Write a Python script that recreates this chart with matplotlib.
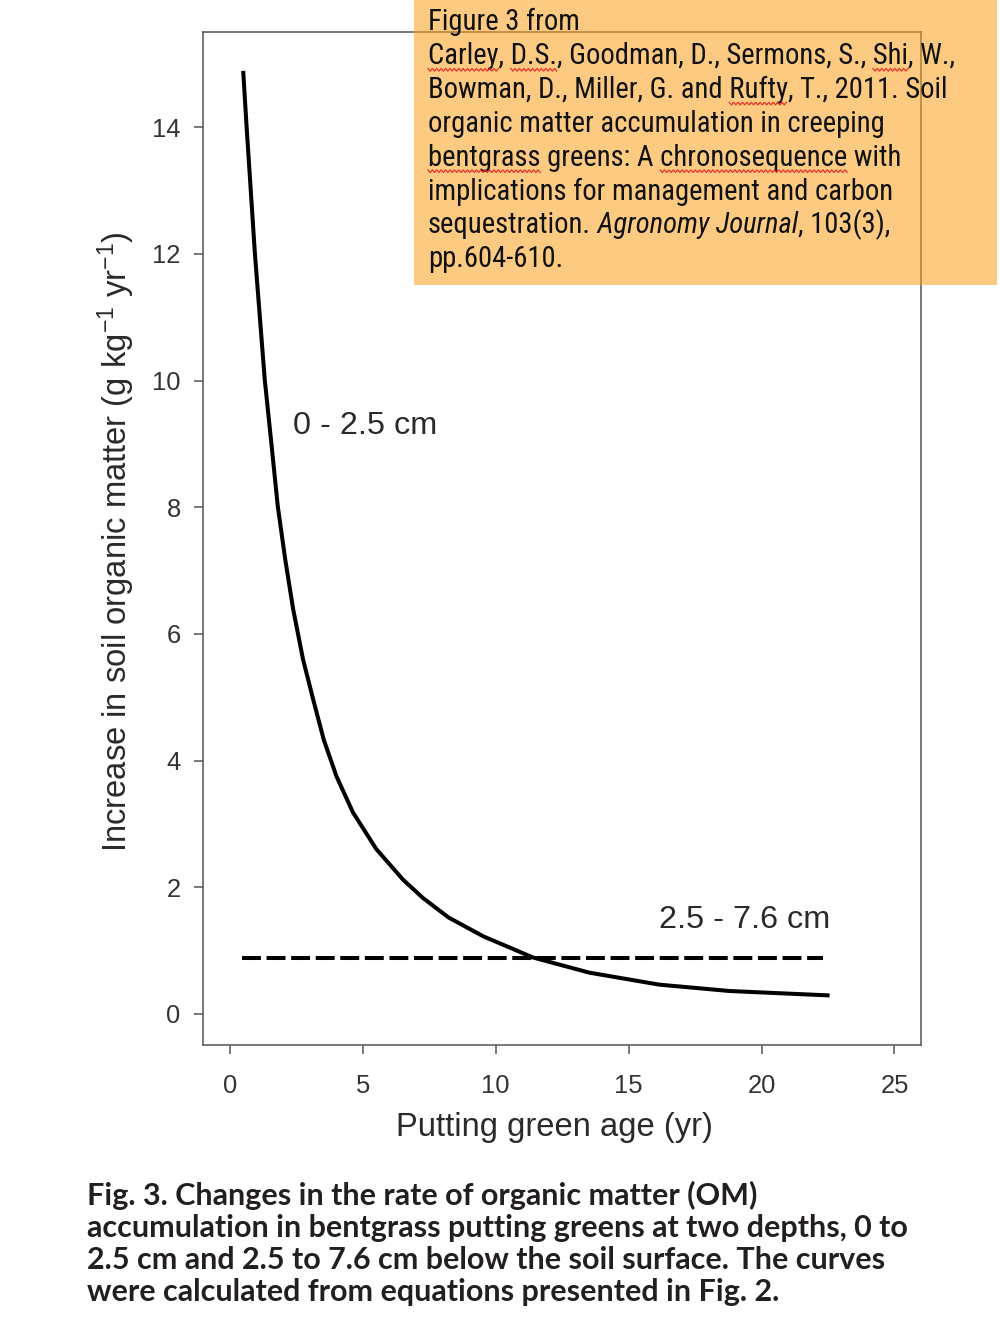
import numpy as np
import matplotlib
matplotlib.use("Agg")
import matplotlib.pyplot as plt
from matplotlib.patches import Rectangle
from matplotlib.lines import Line2D

# ---------------- datos ----------------
# capa 0 - 2.5 cm (curva continua)
edad_sup = [0.50, 0.63, 0.94, 1.31, 1.57, 1.80, 2.08, 2.38, 2.75, 3.13, 3.53,
            4.01, 4.63, 5.51, 6.51, 7.26, 8.23, 9.55, 11.40, 13.52, 16.16,
            18.80, 22.56]
om_sup = [14.89, 14.00, 12.01, 10.02, 8.97, 8.02, 7.18, 6.39, 5.60, 4.97, 4.33,
          3.75, 3.18, 2.60, 2.12, 1.83, 1.52, 1.22, 0.89, 0.65, 0.46,
          0.36, 0.29]
# capa 2.5 - 7.6 cm (linea discontinua, constante)
edad_inf = [0.45, 22.3]
om_inf = [0.875, 0.875]

xticks = [0, 5, 10, 15, 20, 25]
yticks = [0, 2, 4, 6, 8, 10, 12, 14]

etiqueta_sup = "0 - 2.5 cm"
etiqueta_inf = "2.5 - 7.6 cm"

cita = ["Figure 3 from",
        "Carley, D.S., Goodman, D., Sermons, S., Shi, W.,",
        "Bowman, D., Miller, G. and Rufty, T., 2011. Soil",
        "organic matter accumulation in creeping",
        "bentgrass greens: A chronosequence with",
        "implications for management and carbon"]
cita_rev = ("sequestration.", " Agronomy Journal", ", 103(3),")
cita_fin = "pp.604-610."
# palabras subrayadas por el corrector ortografico (linea, palabra)
subrayadas = [(1, "Carley"), (1, "D.S."), (1, "Shi"), (2, "Rufty"),
              (4, "bentgrass"), (4, "chronosequence")]

leyenda = ["Fig. 3. Changes in the rate of organic matter (OM)",
           "accumulation in bentgrass putting greens at two depths, 0 to",
           "2.5 cm and 2.5 to 7.6 cm below the soil surface. The curves",
           "were calculated from equations presented in Fig. 2."]

# ---------------- figura ----------------
plt.rcParams['mathtext.fontset'] = 'custom'
plt.rcParams['mathtext.rm'] = 'Liberation Sans'
plt.rcParams['mathtext.default'] = 'regular'

W, H = 1001, 1333
fig = plt.figure(figsize=(W / 100, H / 100), dpi=100)
fig.patch.set_facecolor('white')

ax = fig.add_axes([0.2031, 0.2157, 0.7170, 0.7601])
ax.plot(edad_sup, om_sup, color='black', lw=2.9, solid_joinstyle='round',
        solid_capstyle='butt')
ax.plot(edad_inf, om_inf, color='black', lw=2.9, dashes=(4.7, 1.4),
        dash_capstyle='butt')

ax.set_xlim(-1, 26)
ax.set_ylim(-0.5, 15.5)
ax.set_xticks(xticks)
ax.set_yticks(yticks)

gris = '#555555'
for s in ax.spines.values():
    s.set_color(gris)
    s.set_linewidth(1.1)
ax.tick_params(axis='both', color=gris, width=1.1, length=6.8,
               labelcolor='#333333', labelsize=18.4)
ax.tick_params(axis='x', pad=14)
ax.tick_params(axis='y', pad=9.5)
for lab in ax.get_xticklabels() + ax.get_yticklabels():
    lab.set_family('Liberation Sans')

ax.text(2.37, 9.16, etiqueta_sup, fontsize=23.3, family='Liberation Sans',
        color='#2a2a2a', va='baseline')
ax.text(22.58, 1.36, etiqueta_inf, fontsize=23.3, family='Liberation Sans',
        color='#2a2a2a', va='baseline', ha='right')

fig.text(554.5 / W, 1 - 1136 / H, "Putting green age (yr)", fontsize=23.6,
         family='Liberation Sans', color='#2a2a2a', ha='center', va='baseline')
fig.text(127 / W, 1 - 541.5 / H,
         "Increase in soil organic matter (g kg$^{-1}$ yr$^{-1}$)",
         fontsize=23.6, family='Liberation Sans', color='#2a2a2a',
         rotation=90, rotation_mode='anchor', ha='center', va='baseline')

# recuadro naranja semitransparente con la cita
fig.add_artist(Rectangle((414 / W, 1 - 285 / H), (997 - 414) / W, 285 / H,
                         transform=fig.transFigure, facecolor='#FB9F18',
                         alpha=0.55, edgecolor='none', zorder=5))

fuente = ['Roboto Condensed', 'Roboto']
tam = 20.6
x0 = 428 / W
base = [30.5 + 33.8 * i for i in range(8)]
for i, linea in enumerate(cita):
    fig.text(x0, 1 - base[i] / H, linea, fontsize=tam, family=fuente,
             color='#111111', va='baseline', zorder=6)

fig.canvas.draw()
r = fig.canvas.get_renderer()
xi = x0
for j, trozo in enumerate(cita_rev):
    t = fig.text(xi, 1 - base[6] / H, trozo, fontsize=tam, family=fuente,
                 style='italic' if j == 1 else 'normal',
                 color='#111111', va='baseline', zorder=6)
    bb = t.get_window_extent(r)
    xi = bb.x1 / W
fig.text(x0, 1 - base[7] / H, cita_fin, fontsize=tam, family=fuente,
         color='#111111', va='baseline', zorder=6)


def ancho(s):
    t = fig.text(0, 0, s, fontsize=tam, family=fuente)
    w = t.get_window_extent(r).width
    t.remove()
    return w


# subrayado ondulado rojo
for n, palabra in subrayadas:
    linea = cita[n]
    k = linea.index(palabra)
    fin = x0 * W + ancho(linea[:k + len(palabra)])
    ini = fin - ancho(palabra)
    xs = np.arange(ini, fin + 0.1, 2.2)
    ys = H - (base[n] + 5.5) + np.where(np.arange(len(xs)) % 2 == 0, 1.3, -1.3)
    fig.add_artist(Line2D(xs / W, ys / H, transform=fig.transFigure,
                          color='#e8312a', lw=0.9, zorder=7))

# leyenda de la figura
for i, linea in enumerate(leyenda):
    fig.text(87 / W, 1 - (1205 + 32 * i) / H, linea, fontsize=22,
             family='Lato', weight='bold', color='#231f20', va='baseline')

fig.savefig("out.png", dpi=100)
